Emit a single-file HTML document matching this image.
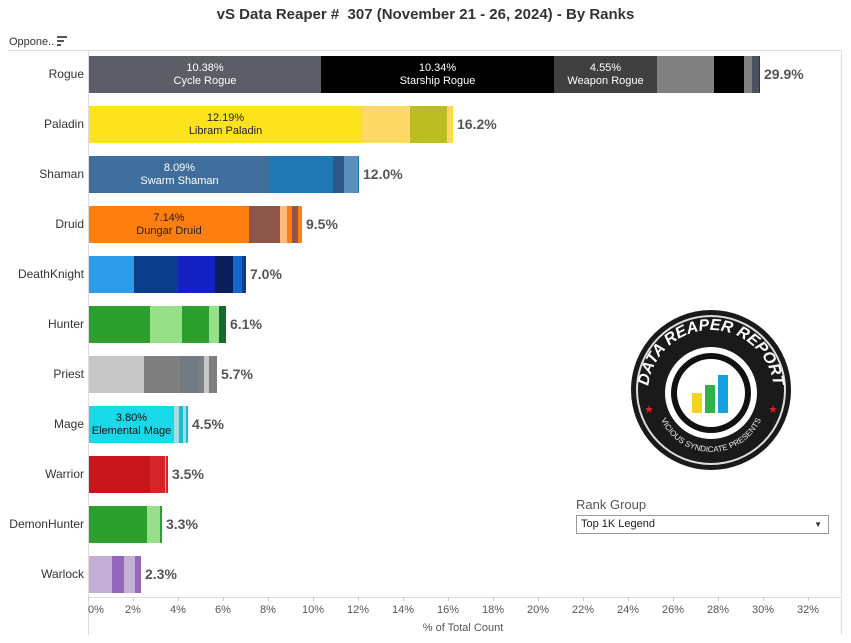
<!DOCTYPE html>
<html><head><meta charset="utf-8"><style>
body{margin:0;width:851px;height:643px;background:#fff;font-family:"Liberation Sans",Arial,sans-serif;position:relative;overflow:hidden}
.a{position:absolute}
.title{left:0;width:851px;top:6px;text-align:center;font-weight:bold;font-size:15px;color:#333}
.lab{right:767px;font-size:12px;color:#333;text-align:right;width:90px}
.s{position:absolute;top:0;height:37px}
.tot{font-weight:bold;font-size:14px;color:#555}
.in{position:absolute;top:0;height:37px;display:flex;flex-direction:column;justify-content:center;align-items:center;font-size:11px;line-height:13px;text-align:center}
.tk{font-size:11px;color:#555;top:604px;width:40px;text-align:center}
.tm{width:1px;height:4px;background:#ccc;top:597px}
</style></head><body>
<div class="a title">vS Data Reaper #&nbsp; 307 (November 21 - 26, 2024) - By Ranks</div>
<div class="a" style="left:9px;top:36px;font-size:11px;color:#333">Oppone..</div>
<div class="a" style="left:57px;top:36px;width:10px;height:2px;background:#555"></div>
<div class="a" style="left:57px;top:40px;width:7px;height:2px;background:#555"></div>
<div class="a" style="left:57px;top:44px;width:4px;height:2px;background:#555"></div>
<div class="a" style="left:8px;top:50px;width:834px;height:1px;background:#ddd"></div>
<div class="a" style="left:88px;top:50px;width:1px;height:585px;background:#ddd"></div>
<div class="a" style="left:841px;top:50px;width:1px;height:585px;background:#ddd"></div>
<div class="a" style="left:88px;top:597px;width:754px;height:1px;background:#ddd"></div>
<div id="bars"></div>
<div class="a" style="left:0;width:851px;top:622px;text-align:center;font-size:11px;color:#555;padding-left:75px;box-sizing:border-box">% of Total Count</div>
<svg class="a" style="left:628px;top:305px" width="170" height="170" viewBox="0 0 170 170">
<defs><path id="tp" d="M20,88 A63,63 0 0 1 146,88"/><path id="bp" d="M28,92 A55,55 0 0 0 138,92"/></defs>
<circle cx="83" cy="85" r="80" fill="#1a1a1a"/>
<circle cx="83" cy="85" r="74" fill="none" stroke="#ddd" stroke-width="2"/>
<circle cx="83" cy="88" r="46" fill="#fff"/>
<circle cx="83" cy="88" r="40" fill="#111"/>
<circle cx="83" cy="88" r="34" fill="#fff"/>
<rect x="64" y="88" width="10" height="20" fill="#f2d421"/>
<rect x="77" y="80" width="10" height="28" fill="#2db34a"/>
<rect x="90" y="70" width="10" height="38" fill="#16a0e0"/>
<text fill="#fff" font-size="16" font-weight="bold" font-style="italic"><textPath href="#tp" startOffset="50%" text-anchor="middle">DATA REAPER REPORT</textPath></text>
<text fill="#eee" font-size="8"><textPath href="#bp" startOffset="50%" text-anchor="middle">VICIOUS SYNDICATE PRESENTS</textPath></text>
<text x="16" y="108" fill="#d22" font-size="11">★</text><text x="140" y="108" fill="#d22" font-size="11">★</text>
</svg>
<div class="a" style="left:576px;top:497px;font-size:13px;color:#555">Rank Group</div>
<div class="a" style="left:576px;top:515px;width:253px;height:19px;border:1px solid #999;box-sizing:border-box;font-size:11px;color:#222;line-height:17px;padding-left:4px">Top 1K Legend<span style="position:absolute;right:6px;font-size:8px;color:#333">▼</span></div>
<script>
var rows=[
["Rogue","29.9%",[[321,"#5b5e66","10.38%","Cycle Rogue","#fff"],[554,"#000","10.34%","Starship Rogue","#fff"],[657,"#404040","4.55%","Weapon Rogue","#fff"],[714,"#808080"],[744,"#000"],[752,"#808080"],[759,"#4b5360"],[760,"#333"]]],
["Paladin","16.2%",[[362,"#fde31c","12.19%","Libram Paladin","#222"],[410,"#fed966"],[447,"#bcbd22"],[451,"#fed966"],[453,"#fde31c"]]],
["Shaman","12.0%",[[270,"#3f6e9c","8.09%","Swarm Shaman","#fff"],[333,"#1f77b4"],[344,"#2c5986"],[358,"#5b8ebd"],[359,"#1f77b4"]]],
["Druid","9.5%",[[249,"#ff7f0e","7.14%","Dungar Druid","#222"],[280,"#8c564b"],[287,"#ffbb78"],[292,"#ff7f0e"],[298,"#8c564b"],[302,"#ff7f0e"]]],
["DeathKnight","7.0%",[[134,"#2c9ce8"],[178,"#0a3d8a"],[215,"#1521c2"],[233,"#0a1e5a"],[242,"#1167cb"],[246,"#0a3d8a"]]],
["Hunter","6.1%",[[150,"#2ca02c"],[182,"#98df8a"],[209,"#2ca02c"],[219,"#98df8a"],[226,"#136b2e"]]],
["Priest","5.7%",[[144,"#c7c7c7"],[180,"#7f7f7f"],[199,"#707b84"],[204,"#7f7f7f"],[209,"#c7c7c7"],[217,"#7f7f7f"]]],
["Mage","4.5%",[[174,"#17d9e8","3.80%","Elemental Mage","#111"],[179,"#a6dde5"],[183,"#17becf"],[186,"#a6dde5"],[188,"#17becf"]]],
["Warrior","3.5%",[[150,"#c8161a"],[165,"#d62728"],[166,"#ff9896"],[168,"#d62728"]]],
["DemonHunter","3.3%",[[147,"#2ca02c"],[160,"#98df8a"],[162,"#2ca02c"]]],
["Warlock","2.3%",[[112,"#c5b0d5"],[124,"#9467bd"],[135,"#c5b0d5"],[141,"#9467bd"]]]];
var h="";
rows.forEach(function(r,i){var y=56+50*i;
h+='<div class="a lab" style="top:'+(y+11)+'px">'+r[0]+'</div>';
var x=89;r[2].forEach(function(s){h+='<div class="s" style="top:'+y+'px;left:'+x+'px;width:'+(s[0]-x)+'px;background:'+s[1]+'"></div>';
if(s[2])h+='<div class="in" style="top:'+y+'px;left:'+x+'px;width:'+(s[0]-x)+'px;color:'+s[4]+'"><div>'+s[2]+'</div><div>'+s[3]+'</div></div>';x=s[0];});
h+='<div class="a tot" style="top:'+(y+10)+'px;left:'+(x+4)+'px">'+r[1]+'</div>';});
for(var k=0;k<=16;k++){var tx=88+k*2*22.5;h+='<div class="a tm" style="left:'+tx+'px"></div><div class="a tk" style="left:'+(tx-20+(k==0?8:0))+'px">'+(k*2)+'%</div>';}
document.getElementById("bars").innerHTML=h;
</script>
</body></html>
